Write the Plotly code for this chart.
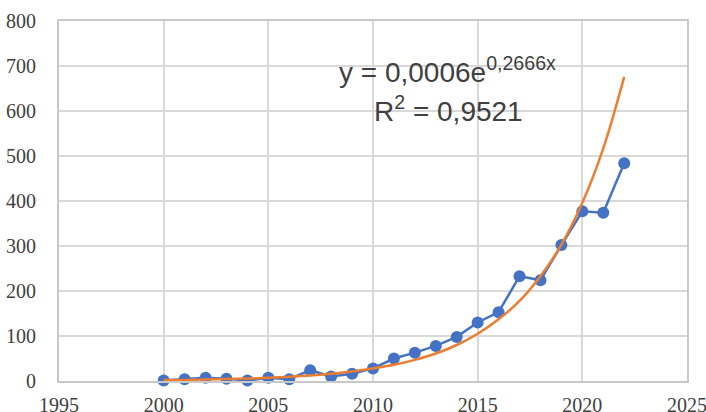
import plotly.graph_objects as go

years = list(range(2000, 2023))
counts = [1, 4, 7, 5, 1, 7, 4, 24, 10, 16, 28, 50, 63, 78, 98, 130, 153, 233, 224, 302, 377, 374, 484]
# exponential trend line values
trend = [2, 2.5, 3.3, 4.3, 5.6, 7.3, 9.5, 12.4, 16, 21, 28, 36, 47, 61, 80, 105, 137, 178, 233, 303, 396, 517, 676]

x_ticks = [1995, 2000, 2005, 2010, 2015, 2020, 2025]
y_ticks = [0, 100, 200, 300, 400, 500, 600, 700, 800]

eq_line1 = "y = 0,0006e<sup>0,2666x</sup>"
eq_line2 = "R<sup>2</sup> = 0,9521"

fig = go.Figure()
fig.add_trace(go.Scatter(
    x=years, y=counts, mode="lines+markers",
    line=dict(color="#4472C4", width=2.5),
    marker=dict(color="#4472C4", size=12),
    showlegend=False, cliponaxis=False,
))
fig.add_trace(go.Scatter(
    x=years, y=trend, mode="lines",
    line=dict(color="#ED7D31", width=2.5, shape="spline"),
    showlegend=False, cliponaxis=False,
))

grid = "#d9d9d9"
tickfont = dict(family="Liberation Serif", size=20, color="#404040")
fig.update_xaxes(
    range=[1995, 2025], tickvals=x_ticks, ticktext=[str(v) for v in x_ticks],
    showgrid=True, gridcolor=grid, gridwidth=1.5,
    showline=True, linecolor="#c8c8c8", linewidth=2, mirror=True,
    zeroline=False, ticks="", tickfont=tickfont, ticklabelstandoff=5,
    automargin=False, ticklabeloverflow="allow",
)
fig.update_yaxes(
    range=[0, 800], tickvals=y_ticks, ticktext=[str(v) for v in y_ticks],
    showgrid=True, gridcolor=grid, gridwidth=1.5,
    showline=True, linecolor="#c8c8c8", linewidth=2, mirror=True,
    zeroline=False, ticks="", tickfont=tickfont, ticklabelstandoff=17,
    automargin=False, ticklabeloverflow="allow",
)

fig.add_shape(type="rect", xref="paper", yref="paper",
              x0=0.427, x1=0.8106, y0=0.6917, y1=0.939,
              fillcolor="white", line=dict(width=0), layer="between")

eqfont = dict(family="Liberation Sans", size=28, color="#404040")
fig.add_annotation(text=eq_line1, xref="paper", yref="paper", x=0.618, y=0.863,
                   xanchor="center", yanchor="middle", showarrow=False, font=eqfont)
fig.add_annotation(text=eq_line2, xref="paper", yref="paper", x=0.621, y=0.756,
                   xanchor="center", yanchor="middle", showarrow=False, font=eqfont)

fig.update_layout(
    width=706, height=412,
    margin=dict(l=59, r=19, t=21, b=31),
    paper_bgcolor="white", plot_bgcolor="white",
)
fig.write_html(
    "out.html",
    config={"displayModeBar": False},
    post_script="document.body.style.margin='0';document.body.style.overflow='hidden';",
)
